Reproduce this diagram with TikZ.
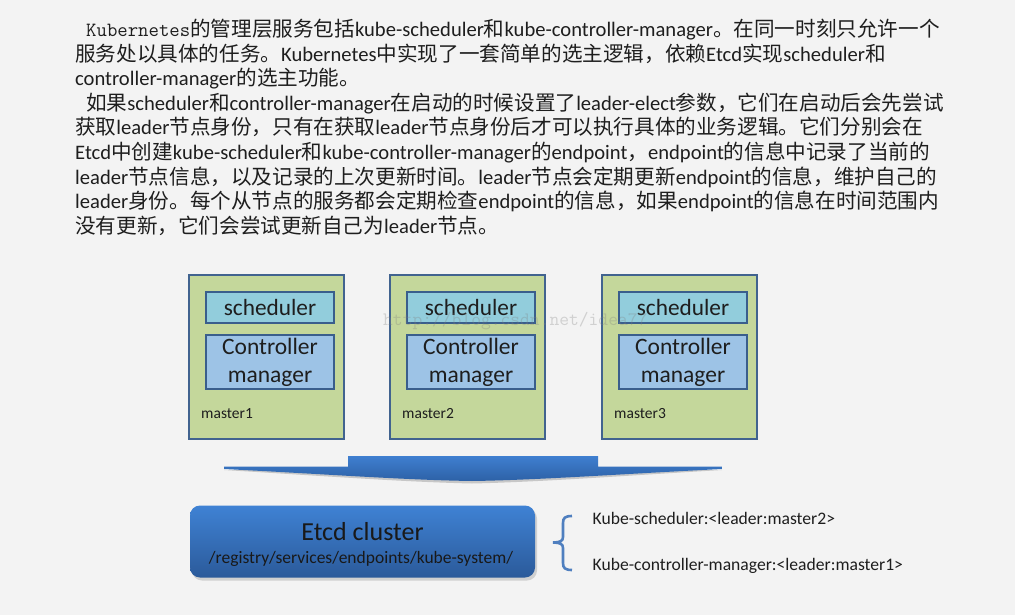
\documentclass[tikz,border=0pt]{standalone}
\usepackage{fontspec}
\setmainfont{Carlito}
\newfontfamily\cjkfont{Noto Sans CJK SC}
\usetikzlibrary{shadows}
\definecolor{bg}{HTML}{F3F3F3}
\definecolor{txt}{HTML}{1E1E1E}
\definecolor{mfill}{HTML}{C4D79B}
\definecolor{mborder}{HTML}{41638F}
\definecolor{iborder}{HTML}{3A5E8C}
\definecolor{sfill}{HTML}{92CDDC}
\definecolor{cfill}{HTML}{9DC3E6}
\definecolor{arrtop}{HTML}{3F7FD0}
\definecolor{arrbot}{HTML}{2D61A6}
\definecolor{etop}{HTML}{3F82D4}
\definecolor{ebot}{HTML}{2B5A9A}
\definecolor{bracecol}{HTML}{4F7FBF}
\newcommand\zhs[1]{{\cjkfont #1}}
\begin{document}
\begin{tikzpicture}[x=1pt,y=-1pt,
  para/.style={anchor=base west, inner sep=0pt, text=txt, font=\fontsize{20.6}{24}\selectfont},
  masterbox/.style={draw=mborder, line width=2pt, fill=mfill, minimum width=155pt, minimum height=164pt, inner sep=0pt},
  schedbox/.style={draw=iborder, line width=2pt, fill=sfill, minimum width=128pt, minimum height=31pt, inner sep=0pt, text=txt, font=\fontsize{23.3}{28}\selectfont},
  ctrlbox/.style={draw=iborder, line width=2pt, fill=cfill, minimum width=128pt, minimum height=54pt, inner sep=0pt, align=center, text=txt, font=\fontsize{23.5}{28}\selectfont},
  mlabel/.style={anchor=base west, inner sep=0pt, text=txt, font=\fontsize{15.5}{18}\selectfont},
  etcdbox/.style={rounded corners=10pt, top color=etop, bottom color=ebot, minimum width=345pt, minimum height=72pt, inner sep=0pt,
    drop shadow={opacity=0.3, shadow xshift=2pt, shadow yshift=-3pt}},
  keytext/.style={anchor=base west, inner sep=0pt, text=txt, font=\fontsize{17.6}{20}\selectfont},
  watermark/.style={anchor=base west, inner sep=0pt, text=gray, opacity=0.3, font=\fontsize{19}{22}\ttfamily},
  bracestyle/.style={draw=bracecol, line width=2.6pt, line cap=butt}
]
\useasboundingbox (0,0) rectangle (1015,615);
\fill[bg] (0,0) rectangle (1015,615);

% paragraph text
\node[para] (l1) at (86,37) {{\fontsize{20.2}{24}\ttfamily Kubernetes}\zhs{的管理层服务包括}kube-scheduler\zhs{和}kube-controller-manager\zhs{。在同一时刻只允许一个}};
\node[para] (l2) at (75,61.5) {\zhs{服务处以具体的任务。}Kubernetes\zhs{中实现了一套简单的选主逻辑，依赖}Etcd\zhs{实现}scheduler\zhs{和}};
\node[para] (l3) at (75,86) {controller-manager\zhs{的选主功能。}};
\node[para] (l4) at (86,110.5) {\zhs{如果}scheduler\zhs{和}controller-manager\zhs{在启动的时候设置了}leader-elect\zhs{参数，它们在启动后会先尝试}};
\node[para] (l5) at (75,135) {\zhs{获取}leader\zhs{节点身份，只有在获取}leader\zhs{节点身份后才可以执行具体的业务逻辑。它们分别会在}};
\node[para] (l6) at (75,159.5) {Etcd\zhs{中创建}kube-scheduler\zhs{和}kube-controller-manager\zhs{的}endpoint\zhs{，}endpoint\zhs{的信息中记录了当前的}};
\node[para] (l7) at (75,184) {leader\zhs{节点信息，以及记录的上次更新时间。}leader\zhs{节点会定期更新}endpoint\zhs{的信息，维护自己的}};
\node[para] (l8) at (75,208.5) {leader\zhs{身份。每个从节点的服务都会定期检查}endpoint\zhs{的信息，如果}endpoint\zhs{的信息在时间范围内}};
\node[para] (l9) at (75,233) {\zhs{没有更新，它们会尝试更新自己为}leader\zhs{节点。}};

% masters
\foreach \n/\x in {1/189,2/390,3/602}{
  \node[masterbox] (m\n) at (\x+77.5,357) {};
  \node[schedbox] (s\n) at (\x+81,307) {scheduler};
  \node[ctrlbox] (c\n) at (\x+81,362) {Controller\\manager};
  \node[mlabel] (ml\n) at (\x+12,418) {master\n};
}

% watermark
\node[watermark] (wm) at (383,325) {http://blog.csdn.net/idea77};

% big arrow
\fill[black, opacity=0.18] (224,470) -- (722,470) .. controls (620,476) and (540,482) .. (472,483.5) .. controls (404,482) and (324,476) .. (224,470) -- cycle;
\shade[top color=arrtop, bottom color=arrbot] (348,456) -- (598,456) -- (598,466.5) -- (722,466.5) -- (722,469) .. controls (620,474) and (540,480) .. (472,481) .. controls (404,480) and (324,474) .. (224,469) -- (224,466.5) -- (348,466.5) -- cycle;

% etcd cluster
\node[etcdbox] (etcd) at (362.5,541.5) {};
\node[anchor=base, inner sep=0pt, text=black!90, font=\fontsize{26}{30}\selectfont] (etcdtitle) at (362.5,540) {Etcd cluster};
\node[anchor=base, inner sep=0pt, text=black!90, font=\fontsize{17.5}{20}\selectfont] (etcdpath) at (361,563) {/registry/services/endpoints/kube-system/};

% brace
\draw[bracestyle] (572,516) .. controls (565,516) and (563,518) .. (563,523) -- (563,537) .. controls (563,541) and (560,542.5) .. (553,542.5) .. controls (560,542.5) and (563,544) .. (563,548) -- (563,563) .. controls (563,568) and (565,570) .. (572,570);

% key texts
\node[keytext] (k1) at (592.5,524) {Kube-scheduler:<leader:master2>};
\node[keytext] (k2) at (592.5,570.5) {Kube-controller-manager:<leader:master1>};
\end{tikzpicture}
\end{document}
